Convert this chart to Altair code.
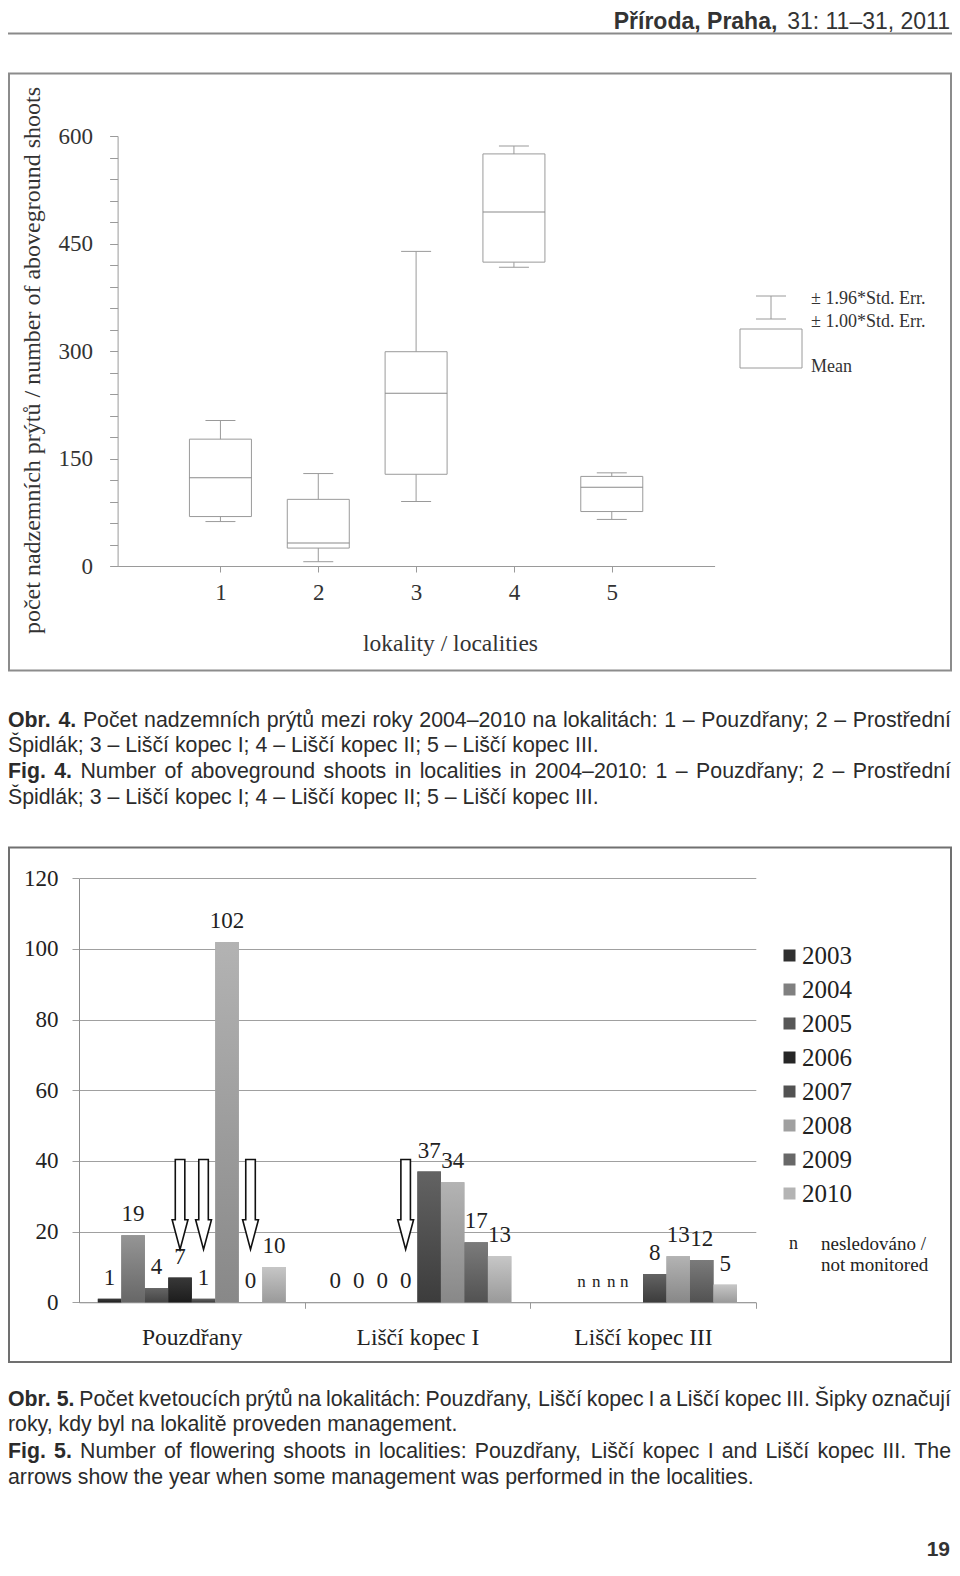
import altair as alt
import pandas as pd

# ---------------- Fig. 4 data (mean, ±1.00*SE box, ±1.96*SE whiskers) ----------------
box_localities = [1, 2, 3, 4, 5]
box_mean = [123, 32, 241, 494, 110]
box_se_low = [69, 25, 128, 424, 76]
box_se_high = [177, 93, 299, 575, 125]
box_ci_low = [62, 6, 90, 417, 65]
box_ci_high = [203, 129, 439, 586, 130]
box_y_ticks = list(range(0, 601, 30))
box_x_ticks = [1, 2, 3, 4, 5]

# ---------------- Fig. 5 data (flowering shoots) ----------------
bar_localities = ["Pouzdřany", "Liščí kopec I", "Liščí kopec III"]
bar_years = ["2003", "2004", "2005", "2006", "2007", "2008", "2009", "2010"]
pouzdrany = [1, 19, 4, 7, 1, 102, 0, 10]
lisci_kopec_1 = [0, 0, 0, 0, 37, 34, 17, 13]
lisci_kopec_3 = [None, None, None, None, 8, 13, 12, 5]  # None = not monitored
bar_y_ticks = [0, 20, 40, 60, 80, 100, 120]
arrow_localities = ["Pouzdřany", "Pouzdřany", "Pouzdřany", "Liščí kopec I"]
arrow_years = ["2006", "2007", "2009", "2006"]

# palette (legend colour + vertical gradient top/bottom per year)
year_colors = ["#303030", "#808080", "#575757", "#262626", "#525252", "#a0a0a0", "#686868", "#b4b4b4"]
year_grad_top = ["#3c3c3c", "#959595", "#656565", "#383838", "#636363", "#b3b3b3", "#7b7b7b", "#c6c6c6"]
year_grad_bottom = ["#1e1e1e", "#676767", "#454545", "#1c1c1c", "#3c3c3c", "#888888", "#525252", "#9a9a9a"]

# ---------------- page texts ----------------
header_bold = "Příroda, Praha,"
header_regular = "31: 11–31, 2011"
caption4 = [
    ("Obr. 4.", "Počet nadzemních prýtů mezi roky 2004–2010 na lokalitách: 1 – Pouzdřany; 2 – Prostřední", True),
    ("", "Špidlák; 3 – Liščí kopec I; 4 – Liščí kopec II; 5 – Liščí kopec III.", False),
    ("Fig. 4.", "Number of aboveground shoots in localities in 2004–2010: 1 – Pouzdřany; 2 – Prostřední", True),
    ("", "Špidlák; 3 – Liščí kopec I; 4 – Liščí kopec II; 5 – Liščí kopec III.", False),
]
caption5 = [
    ("Obr. 5.", "Počet kvetoucích prýtů na lokalitách: Pouzdřany, Liščí kopec I a Liščí kopec III. Šipky označují", True),
    ("", "roky, kdy byl na lokalitě proveden management.", False),
    ("Fig. 5.", "Number of flowering shoots in localities: Pouzdřany, Liščí kopec I and Liščí kopec III. The", True),
    ("", "arrows show the year when some management was performed in the localities.", False),
]
page_number = "19"
box_y_title = "počet nadzemních prýtů / number of aboveground shoots"
box_x_title = "lokality / localities"
box_legend = ["± 1.96*Std. Err.", "± 1.00*Std. Err.", "Mean"]
n_legend = ["n", "nesledováno /", "not monitored"]

# ---------------- layout helpers ----------------
W, H = 944, 1554
SANS = "Liberation Sans"
SERIF = "Liberation Serif"


def X(p):
    return p - 8


def Y(p):
    return p - 8


ONE = alt.Data(values=[{"k": 0}])

REG, BOLD = {}, {}


def _set(t, chars, w):
    for c in chars:
        t[c] = w


_set(REG, "ijl", 222)
_set(REG, "ft ,.:;/íI", 278)
_set(REG, "rř", 333)
_set(REG, "ckvxyzsčýšžJ", 500)
_set(REG, "abdeghnopquáéěůú0123456789–L", 556)
_set(REG, "wCDHNRU", 722)
_set(REG, "FTZ", 611)
_set(REG, "ABEKPSŠVXY", 667)
_set(REG, "GOQ", 778)
_set(REG, "mM", 833)
_set(REG, "W", 944)
_set(BOLD, " .,iíI", 278)
_set(BOLD, "0123456789a", 556)
_set(BOLD, "rř", 389)
_set(BOLD, "bdghnopFT", 611)
_set(BOLD, "O", 778)
_set(BOLD, "P", 667)
_set(BOLD, ":", 333)


def tw(s, bold, size):
    t = BOLD if bold else REG
    return sum(t.get(c, 556) for c in s) * size / 1000.0


def text_mark(s, x, y, size, font, weight="normal", align="left", baseline="alphabetic", color="#2b2b2b", angle=0):
    return alt.Chart(ONE).mark_text(
        text=s, align=align, baseline=baseline, font=font, fontSize=size,
        fontWeight=weight, color=color, angle=angle,
    ).encode(x=alt.value(x), y=alt.value(y))


CAP_FS = 21.3
CAP_COLOR = "#2b2b2b"
RIGHT = X(951)


def caption_line(bold, regular, justify, y, left=0.0, right=RIGHT):
    if not justify:
        return [text_mark(regular, left, y, CAP_FS, SANS, color=CAP_COLOR)]
    words = [(w, True) for w in bold.split()] + [(w, False) for w in regular.split()]
    widths = [tw(w, b, CAP_FS) for w, b in words]
    gap = (right - left - sum(widths)) / (len(words) - 1)
    xs, cur = [], left
    for wd in widths:
        xs.append(cur)
        cur += wd + gap
    df = pd.DataFrame({"t": [w for w, _ in words], "b": [b for _, b in words], "px": xs})
    out = []
    for is_bold in (True, False):
        sub = df[df.b == is_bold]
        if len(sub):
            out.append(alt.Chart(sub).mark_text(
                align="left", baseline="alphabetic", font=SANS, fontSize=CAP_FS,
                fontWeight="bold" if is_bold else "normal", color=CAP_COLOR,
            ).encode(x=alt.X("px:Q", scale=None, axis=None), y=alt.value(y), text="t:N"))
    return out


def frame(x1, y1, x2, y2, color):
    return alt.Chart(ONE).mark_rect(fillOpacity=0, stroke=color, strokeWidth=2).encode(
        x=alt.value(x1), x2=alt.value(x2), y=alt.value(y1), y2=alt.value(y2))


def hrule(x1, x2, y, color, width=1):
    return alt.Chart(ONE).mark_rule(color=color, strokeWidth=width).encode(
        x=alt.value(x1), x2=alt.value(x2), y=alt.value(y))


def vrule(x, y1, y2, color, width=1):
    return alt.Chart(ONE).mark_rule(color=color, strokeWidth=width).encode(
        x=alt.value(x), y=alt.value(y1), y2=alt.value(y2))


# ---------------- Fig. 4: box chart ----------------
LINE = "#9a9a9a"
df_box = pd.DataFrame({
    "loc": box_localities, "mean": box_mean, "se_low": box_se_low,
    "se_high": box_se_high, "ci_low": box_ci_low, "ci_high": box_ci_high,
})
top_x_scale = alt.Scale(domain=[0, 6], range=[X(117.6), X(714.6)], nice=False, zero=False)
top_y_scale = alt.Scale(domain=[0, 600], range=[Y(566), Y(136)], nice=False)
top_y_axis = alt.Axis(
    orient="left", offset=-X(117.6), values=box_y_ticks,
    labelExpr="datum.value % 150 === 0 ? datum.label : ''", labelOverlap=False,
    grid=False, domainColor=LINE, tickColor=LINE, tickSize=8, labelPadding=17,
    labelFont=SERIF, labelFontSize=23, labelColor="#333333",
    title=box_y_title, titleFont=SERIF, titleFontSize=24, titleFontWeight="normal",
    titleColor="#333333", titleAngle=270, titleX=32 - 117.6, titleY=Y(360),
    titleAlign="center", titleBaseline="middle",
)
top_x_axis = alt.Axis(
    orient="bottom", offset=Y(566) - H, values=box_x_ticks, format="d",
    grid=False, domainColor=LINE, tickColor=LINE, tickSize=6, labelPadding=9,
    labelFont=SERIF, labelFontSize=23, labelColor="#333333", labelFlush=False,
    title=box_x_title, titleFont=SERIF, titleFontSize=23.5, titleFontWeight="normal",
    titleColor="#333333", titleX=X(450), titleY=643 - 566,
    titleAlign="center", titleBaseline="middle",
)
tb = alt.Chart(df_box)
whiskers = tb.mark_rule(color=LINE, strokeWidth=1).encode(
    x=alt.X("loc:Q", scale=top_x_scale, axis=top_x_axis),
    y=alt.Y("ci_low:Q", scale=top_y_scale, axis=top_y_axis),
    y2="ci_high:Q",
)
boxes = tb.mark_bar(width=62, fill="white", stroke=LINE, strokeWidth=1).encode(
    x="loc:Q", y="se_low:Q", y2="se_high:Q")
cap_hi = tb.mark_tick(orient="horizontal", size=30, thickness=1, color=LINE, opacity=1).encode(x="loc:Q", y="ci_high:Q")
cap_lo = tb.mark_tick(orient="horizontal", size=30, thickness=1, color=LINE, opacity=1).encode(x="loc:Q", y="ci_low:Q")
means = tb.mark_tick(orient="horizontal", size=62, thickness=1, color="#8a8a8a", opacity=1).encode(x="loc:Q", y="mean:Q")
top_chart = alt.layer(whiskers, boxes, cap_hi, cap_lo, means)

# legend sample for Fig. 4
top_legend = [
    vrule(X(771), Y(296), Y(319), LINE),
    hrule(X(756), X(786), Y(296), LINE),
    hrule(X(756), X(786), Y(319), LINE),
    alt.Chart(ONE).mark_rect(fill="white", stroke=LINE, strokeWidth=1).encode(
        x=alt.value(X(740)), x2=alt.value(X(802)), y=alt.value(Y(329)), y2=alt.value(Y(368))),
    text_mark(box_legend[0], X(811), Y(304), 18, SERIF, color="#333333"),
    text_mark(box_legend[1], X(811), Y(327), 18, SERIF, color="#333333"),
    text_mark(box_legend[2], X(811), Y(372), 18, SERIF, color="#333333"),
]

# ---------------- Fig. 5: grouped bars ----------------
rows = []
for loc, vals in zip(bar_localities, [pouzdrany, lisci_kopec_1, lisci_kopec_3]):
    for yr, v in zip(bar_years, vals):
        rows.append({"locality": loc, "year": yr, "value": v})
df_bar = pd.DataFrame(rows)
monitored = df_bar[df_bar["value"].notna()].copy()
not_monitored = df_bar[df_bar["value"].isna()][["locality", "year"]].copy()
df_arrow = pd.DataFrame({"locality": arrow_localities, "year": arrow_years})

STEP = (X(755.8) - X(79)) / 3
PAD_OUT = 0.0835 * STEP
bot_x_scale = alt.Scale(domain=bar_localities, range=[X(79), X(755.8)], paddingInner=0.167, paddingOuter=0.0835)
bot_xo_scale = alt.Scale(domain=bar_years, paddingInner=0, paddingOuter=0)
bot_y_scale = alt.Scale(domain=[0, 120], range=[Y(1302.3), Y(878.3)], nice=False)
bot_y_axis = alt.Axis(
    orient="left", offset=-X(79), values=bar_y_ticks, grid=True, gridColor="#a0a0a0",
    gridWidth=1, domainColor="#8c8c8c", tickColor="#a0a0a0", tickSize=7, labelPadding=14,
    labelFont=SERIF, labelFontSize=23, labelColor="#222222", title=None,
)
bot_x_axis = alt.Axis(
    orient="bottom", offset=Y(1302.3) - H, bandPosition=1, tickOffset=PAD_OUT,
    labelOffset=-PAD_OUT, tickSize=6, labelPadding=17,
    labelFont=SERIF, labelFontSize=23.5, labelColor="#222222", labelAngle=0,
    domainColor="#9a9a9a", tickColor="#9a9a9a", grid=False, title=None,
)
ex = alt.X("locality:N", scale=bot_x_scale, axis=bot_x_axis)
exo = alt.XOffset("year:N", scale=bot_xo_scale)
bars = alt.Chart(monitored).mark_bar().encode(
    x=ex, xOffset=exo,
    y=alt.Y("value:Q", scale=bot_y_scale, axis=bot_y_axis),
    color=alt.Color("year:N", scale=alt.Scale(domain=bar_years, range=year_colors), legend=alt.Legend(
        orient="none", legendX=X(777), legendY=Y(943), title=None, symbolType="square",
        symbolSize=144, symbolStrokeWidth=0, symbolOpacity=1, labelFont=SERIF, labelFontSize=25,
        labelColor="#222222", labelOffset=0, rowPadding=8, padding=0,
    )),
)
# gradient shading of each year's bars (drawn over the flat bars)
shaded = [
    alt.Chart(monitored).transform_filter(alt.datum.year == yr).mark_bar(
        color=alt.Gradient(gradient="linear", x1=0, x2=0, y1=0, y2=1,
                           stops=[alt.GradientStop(color=top, offset=0),
                                  alt.GradientStop(color=bot, offset=1)])
    ).encode(x=ex, xOffset=exo, y="value:Q")
    for yr, top, bot in zip(bar_years, year_grad_top, year_grad_bottom)
]
value_labels = alt.Chart(monitored).mark_text(
    baseline="alphabetic", dy=-14, font=SERIF, fontSize=23, color="#222222").encode(
    x=ex, xOffset=exo, y="value:Q", text=alt.Text("value:Q", format="d"))
# "n" markers are set a little tighter than the bar slots, as in the original
n_shift = [20.6, 12.1, 3.6, -6.9]
n_labels = [
    alt.Chart(not_monitored).transform_filter(alt.datum.year == yr).mark_text(
        text="n", baseline="alphabetic", dy=-15, dx=d, font=SERIF, fontSize=17, color="#222222").encode(
        x=ex, xOffset=exo, y=alt.datum(0))
    for yr, d in zip(bar_years[:4], n_shift)
]
ARROW = "M -0.106 -1 L 0.106 -1 L 0.106 0.34 L 0.176 0.34 L 0 1 L -0.176 0.34 L -0.106 0.34 Z"
arrows = alt.Chart(df_arrow).mark_point(
    shape=ARROW, size=8100, filled=True, fill="white", stroke="#111111", strokeWidth=1.6,
    opacity=1, fillOpacity=1, strokeOpacity=1).encode(x=ex, xOffset=exo, y=alt.datum(27.7))
bottom_chart = alt.layer(bars, *shaded, value_labels, *n_labels, arrows)

bottom_legend_extra = [
    text_mark(n_legend[0], X(789), Y(1249), 18, SERIF, color="#222222"),
    text_mark(n_legend[1], X(821), Y(1250), 19, SERIF, color="#222222"),
    text_mark(n_legend[2], X(821), Y(1271), 19, SERIF, color="#222222"),
]

# ---------------- page furniture ----------------
HDR_FS = 23
hdr_right = X(950)
hdr_bold_right = hdr_right - tw(header_regular, False, HDR_FS) - tw(" ", False, HDR_FS)
furniture = [
    text_mark(header_regular, hdr_right, Y(29), HDR_FS, SANS, align="right", color="#333333"),
    text_mark(header_bold, hdr_bold_right, Y(29), HDR_FS, SANS, weight="bold", align="right", color="#333333"),
    hrule(0, X(952), Y(33.5), "#8a8a8a", 2),
    frame(1, Y(73.4), X(951), Y(670.5), "#8c8c8c"),
    frame(1, Y(847.4), X(951), Y(1362), "#707070"),
    text_mark(page_number, X(950), Y(1556), 21, SANS, weight="bold", align="right", color="#333333"),
]
cap_layers = []
for (b, r, j), yc in zip(caption4, [719.7, 745.2, 770.8, 797.0]):
    cap_layers += caption_line(b, r, j, Y(yc + 7))
for (b, r, j), yc in zip(caption5, [1399.3, 1424.4, 1450.6, 1476.7]):
    cap_layers += caption_line(b, r, j, Y(yc + 7))

chart = alt.layer(
    *furniture, top_chart, *top_legend, bottom_chart, *bottom_legend_extra, *cap_layers
).resolve_scale(x="independent", y="independent").properties(
    width=W, height=H, padding=0, background="white",
    autosize=alt.AutoSizeParams(type="none"),
).configure_view(strokeWidth=0)

chart.save("out.html", embed_options={"renderer": "svg", "actions": False})
